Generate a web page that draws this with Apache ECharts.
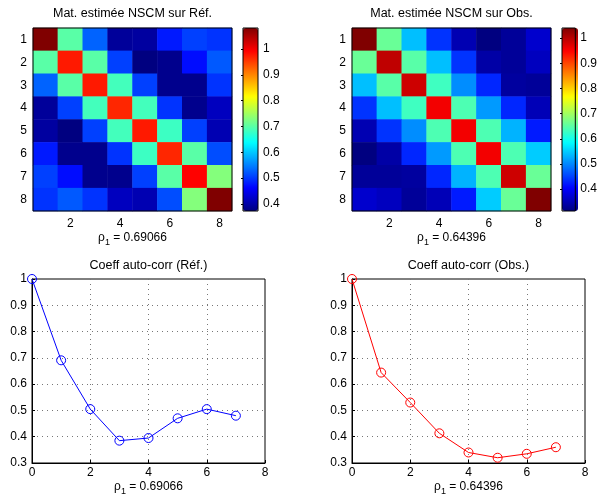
<!DOCTYPE html>
<html>
<head>
<meta charset="utf-8">
<script src="https://cdn.jsdelivr.net/npm/echarts@6/dist/echarts.min.js"></script>
<style>html,body{margin:0;padding:0;background:#fff}#c{width:600px;height:499px}</style>
</head>
<body>
<div id="c"></div>
<script>
// ---------- data ----------
const matCats = ['1','2','3','4','5','6','7','8'];
const refMatrix = [
  [1.081, 0.700, 0.530, 0.391, 0.395, 0.479, 0.506, 0.497],
  [0.700, 0.975, 0.700, 0.506, 0.373, 0.382, 0.470, 0.523],
  [0.530, 0.700, 0.975, 0.685, 0.506, 0.382, 0.382, 0.497],
  [0.391, 0.506, 0.685, 0.966, 0.685, 0.497, 0.382, 0.417],
  [0.395, 0.373, 0.506, 0.685, 0.975, 0.680, 0.506, 0.408],
  [0.479, 0.382, 0.382, 0.497, 0.680, 0.966, 0.700, 0.515],
  [0.506, 0.470, 0.382, 0.382, 0.506, 0.700, 0.992, 0.730],
  [0.497, 0.523, 0.497, 0.417, 0.408, 0.515, 0.730, 1.081]
];
const obsMatrix = [
  [1.040, 0.660, 0.540, 0.440, 0.349, 0.313, 0.331, 0.368],
  [0.660, 0.995, 0.648, 0.540, 0.440, 0.340, 0.331, 0.358],
  [0.540, 0.648, 0.985, 0.630, 0.504, 0.431, 0.335, 0.331],
  [0.440, 0.540, 0.630, 0.958, 0.640, 0.513, 0.431, 0.352],
  [0.349, 0.440, 0.504, 0.640, 0.958, 0.640, 0.531, 0.422],
  [0.313, 0.340, 0.431, 0.513, 0.640, 0.958, 0.640, 0.549],
  [0.331, 0.331, 0.335, 0.431, 0.531, 0.640, 0.985, 0.660],
  [0.368, 0.358, 0.331, 0.352, 0.422, 0.549, 0.660, 1.040]
];
const refRange = [0.373, 1.081];
const obsRange = [0.313, 1.040];
const cbarTicks = [0.4, 0.5, 0.6, 0.7, 0.8, 0.9, 1];

const lags = [0, 1, 2, 3, 4, 5, 6, 7];
const refAutocorr = [1, 0.69066, 0.505, 0.385, 0.395, 0.470, 0.505, 0.480];
const obsAutocorr = [1, 0.64396, 0.530, 0.413, 0.340, 0.320, 0.335, 0.360];
const lagTicks = [0, 2, 4, 6, 8];
const corrTicks = [0.3, 0.4, 0.5, 0.6, 0.7, 0.8, 0.9, 1];

const titles = ['Mat. estimée NSCM sur Réf.', 'Mat. estimée NSCM sur Obs.', 'Coeff auto-corr (Réf.)', 'Coeff auto-corr (Obs.)'];

// ---------- helpers ----------
const FONT = '"Liberation Sans", Arial, Helvetica, sans-serif';
const jet = ['#000080','#0000ff','#0080ff','#00ffff','#80ff80','#ffff00','#ff8000','#ff0000','#800000'];
const toCells = m => { const out = []; m.forEach((row, r) => row.forEach((v, c) => out.push([c, r, v]))); return out; };
const fmt = v => String(+(+v).toFixed(2));
const rhoName = v => '{a|ρ}{s|1}{a| = ' + v + '}';
const rich = { a: { fontSize: 12, fontFamily: FONT, color: '#000', verticalAlign: 'top', lineHeight: 14 },
               s: { fontSize: 9, fontFamily: FONT, color: '#000', verticalAlign: 'top', padding: [6, 0, 0, 0], lineHeight: 14 } };
const lbl = { color: '#000', fontSize: 12, fontFamily: FONT };

function heatX(gi) {
  return { type: 'category', gridIndex: gi, data: matCats, z: 10,
    axisLine: { show: false }, axisTick: { show: false }, splitLine: { show: false },
    axisLabel: Object.assign({ interval: i => i % 2 === 1, margin: 7 }, lbl),
    name: '', nameLocation: 'middle' };
}
function heatY(gi) {
  return { type: 'category', gridIndex: gi, data: matCats, inverse: true, z: 10,
    axisLine: { show: false }, axisTick: { show: false }, splitLine: { show: false },
    axisLabel: Object.assign({ margin: 6 }, lbl) };
}
function cbarX(gi) { return { type: 'value', gridIndex: gi, min: 0, max: 1, show: false }; }
function cbarY(gi, rng) {
  return { type: 'value', gridIndex: gi, min: rng[0], max: rng[1], position: 'right',
    axisLine: { show: false }, splitLine: { show: false },
    axisTick: { show: true, inside: true, length: 2, customValues: cbarTicks, lineStyle: { color: '#000' } },
    axisLabel: Object.assign({ margin: 5, customValues: cbarTicks, formatter: fmt }, lbl) };
}
function lineX(gi, rho) {
  return { type: 'value', gridIndex: gi, min: 0, max: 8, interval: 2,
    axisLine: { show: true, lineStyle: { color: '#000', width: 1 } },
    axisTick: { show: true, inside: true, length: 3, customValues: lagTicks, lineStyle: { color: '#000' } },
    axisLabel: Object.assign({ margin: 4, customValues: lagTicks, formatter: fmt }, lbl),
    splitLine: { show: true, showMinLine: false, showMaxLine: false, lineStyle: { color: '#777', type: [1, 4], width: 1 } },
    name: rhoName(rho), nameLocation: 'middle', nameGap: 18, nameTextStyle: { rich } };
}
function lineY(gi) {
  return { type: 'value', gridIndex: gi, min: 0.3, max: 1, interval: 0.1,
    axisLine: { show: true, lineStyle: { color: '#000', width: 1 } },
    axisTick: { show: true, inside: true, length: 3, lineStyle: { color: '#000' } },
    axisLabel: Object.assign({ margin: 5, formatter: fmt }, lbl),
    splitLine: { show: true, showMinLine: false, showMaxLine: false, lineStyle: { color: '#777', type: [1, 4], width: 1 } } };
}

const heatGrid = { show: true, borderColor: '#000', borderWidth: 1, backgroundColor: 'transparent', z: 10 };

function lineSeries(axisIdx, values, color) {
  return { type: 'line', xAxisIndex: axisIdx, yAxisIndex: axisIdx,
    data: lags.map((l, i) => [l, values[i]]),
    symbol: 'circle', symbolSize: 9, z: 5,
    lineStyle: { color: color, width: 1 },
    itemStyle: { color: 'rgba(0,0,0,0)', borderColor: color, borderWidth: 1 },
    emphasis: { disabled: true } };
}

const option = {
  backgroundColor: '#fff',
  animation: false,
  grid: [
    Object.assign({ left: 33, top: 28, width: 199, height: 183 }, heatGrid),
    Object.assign({ left: 352, top: 28, width: 199, height: 183 }, heatGrid),
    Object.assign({ left: 243, top: 28, width: 15, height: 183 }, heatGrid),
    Object.assign({ left: 562, top: 28, width: 16, height: 183 }, heatGrid),
    { left: 32, top: 279, width: 233, height: 184, show: true, borderColor: '#000', borderWidth: 1 },
    { left: 352, top: 279, width: 233, height: 184, show: true, borderColor: '#000', borderWidth: 1 }
  ],
  xAxis: [
    Object.assign(heatX(0), { name: rhoName(refAutocorr[1]), nameGap: 21, nameTextStyle: { rich } }),
    Object.assign(heatX(1), { name: rhoName(obsAutocorr[1]), nameGap: 21, nameTextStyle: { rich } }),
    cbarX(2), cbarX(3),
    lineX(4, refAutocorr[1]), lineX(5, obsAutocorr[1])
  ],
  yAxis: [heatY(0), heatY(1), cbarY(2, refRange), cbarY(3, obsRange), lineY(4), lineY(5)],
  visualMap: [
    { type: 'continuous', seriesIndex: 0, min: refRange[0], max: refRange[1], calculable: false, hoverLink: false,
      orient: 'vertical', left: 243, top: 28, itemWidth: 15, itemHeight: 183, padding: 0, inRange: { color: jet } },
    { type: 'continuous', seriesIndex: 1, min: obsRange[0], max: obsRange[1], calculable: false, hoverLink: false,
      orient: 'vertical', left: 562, top: 28, itemWidth: 16, itemHeight: 183, padding: 0, inRange: { color: jet } }
  ],
  series: [
    { type: 'heatmap', xAxisIndex: 0, yAxisIndex: 0, data: toCells(refMatrix), itemStyle: { borderWidth: 0 } },
    { type: 'heatmap', xAxisIndex: 1, yAxisIndex: 1, data: toCells(obsMatrix), itemStyle: { borderWidth: 0 } },
    lineSeries(4, refAutocorr, '#0000ff'),
    lineSeries(5, obsAutocorr, '#ff0000')
  ],
  graphic: [
    [132.5, 14], [451.5, 14], [148.5, 266], [468.5, 266]
  ].map((p, i) => ({ type: 'text', x: p[0], y: p[1], silent: true,
    style: { text: titles[i], fill: '#000', font: '12.5px ' + FONT, textAlign: 'center', textVerticalAlign: 'middle' } }))
};

const chart = echarts.init(document.getElementById('c'), null, { renderer: 'canvas' });
chart.setOption(option);
</script>
</body>
</html>
